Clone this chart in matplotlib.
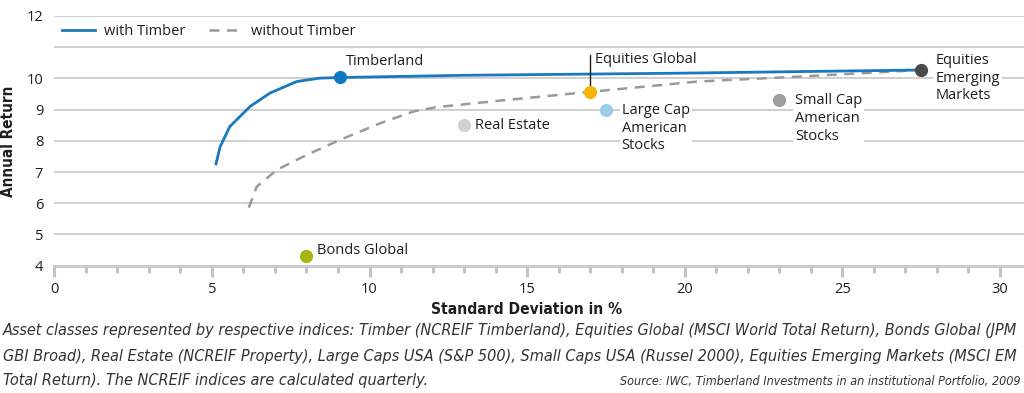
import matplotlib
matplotlib.use("Agg")
import matplotlib.pyplot as plt
from matplotlib.ticker import MultipleLocator, FixedLocator

plt.rcParams['font.family'] = ['Open Sans', 'DejaVu Sans']

# Efficient frontier with timber
with_x = [5.13, 5.26, 5.57, 6.21, 6.84, 7.69, 8.43, 9.09, 13.0, 20.0, 27.5]
with_y = [7.26, 7.81, 8.46, 9.10, 9.53, 9.90, 10.01, 10.03, 10.10, 10.17, 10.27]
# Efficient frontier without timber
without_x = [6.17, 6.42, 7.06, 8.01, 9.06, 10.33, 11.39, 12.13, 14.35, 17.0, 20.4, 23.66, 27.5]
without_y = [5.86, 6.53, 7.07, 7.55, 8.03, 8.56, 8.94, 9.08, 9.31, 9.57, 9.90, 10.06, 10.27]

# Asset classes
assets = ["Timberland", "Equities Global", "Large Cap\nAmerican\nStocks", "Real Estate",
          "Small Cap\nAmerican\nStocks", "Equities\nEmerging\nMarkets", "Bonds Global"]
asset_sd = [9.05, 17.0, 17.5, 13.0, 23.0, 27.5, 8.0]
asset_ret = [10.03, 9.57, 9.0, 8.5, 9.3, 10.27, 4.3]
asset_colors = ["#0c79c4", "#f6b600", "#9ccde6", "#d2d2d2", "#9e9e9e", "#4a4a4a", "#a7b316"]

x_ticks = [0, 5, 10, 15, 20, 25, 30]
y_ticks = [4, 5, 6, 7, 8, 9, 10, 12]

caption_lines = [
    "Asset classes represented by respective indices: Timber (NCREIF Timberland), Equities Global (MSCI World Total Return), Bonds Global (JPM",
    "GBI Broad), Real Estate (NCREIF Property), Large Caps USA (S&P 500), Small Caps USA (Russel 2000), Equities Emerging Markets (MSCI EM",
    "Total Return). The NCREIF indices are calculated quarterly.",
]
source = "Source: IWC, Timberland Investments in an institutional Portfolio, 2009"

TXT = "#1e1e1e"
fig = plt.figure(figsize=(10.24, 3.93), dpi=100)
ax = fig.add_axes([54.3/1024, (393-265.7)/393, (1024-54.3)/1024, (265.7-16)/393])
ax.set_xlim(0, (1024-54.3)/31.52)
ax.set_ylim(4, 12)

for s in ["top", "right", "left"]:
    ax.spines[s].set_visible(False)
ax.spines["bottom"].set_color("#c8c8c8")
ax.spines["bottom"].set_linewidth(2)

for yv in range(5, 13):
    ax.axhline(yv, color="#cccccc", lw=1.3, zorder=0)

ax.xaxis.set_major_locator(FixedLocator(x_ticks))
ax.xaxis.set_minor_locator(MultipleLocator(1))
ax.tick_params(axis="x", which="major", length=8, width=2.2, color="#c4c4c4",
               labelsize=10.5, labelcolor=TXT, pad=4)
ax.tick_params(axis="x", which="minor", length=5, width=2.2, color="#c4c4c4")
ax.yaxis.set_major_locator(FixedLocator(y_ticks))
ax.tick_params(axis="y", length=0, labelsize=10.5, labelcolor=TXT, pad=8)

ax.plot(with_x, with_y, color="#1a78bd", lw=2, zorder=3, label="with Timber")
ax.plot(without_x, without_y, color="#9a9a9a", lw=1.8, ls=(0, (4, 3)), zorder=2,
        label="without Timber")

for x, y, c in zip(asset_sd, asset_ret, asset_colors):
    ax.plot(x, y, "o", ms=8.5, color=c, mec=c, zorder=5)

box = dict(facecolor="white", edgecolor="none", pad=1.5)
fs = 10.5
ax.text(asset_sd[0] + 0.2, asset_ret[0] + 0.52, assets[0], fontsize=fs, color=TXT,
        va="center", ha="left")
ax.plot([asset_sd[1], asset_sd[1]], [asset_ret[1], asset_ret[1] + 1.17], color=TXT, lw=1, zorder=4)
ax.text(asset_sd[1] + 0.17, asset_ret[1] + 1.05, assets[1], fontsize=fs, color=TXT,
        va="center", ha="left")
ax.text(asset_sd[2] + 0.5, asset_ret[2] + 0.22, assets[2], fontsize=fs, color=TXT,
        va="top", ha="left", linespacing=1.25, bbox=box, zorder=4)
ax.text(asset_sd[3] + 0.35, asset_ret[3], assets[3], fontsize=fs, color=TXT,
        va="center", ha="left", bbox=box, zorder=4)
ax.text(asset_sd[4] + 0.5, asset_ret[4] + 0.22, assets[4], fontsize=fs, color=TXT,
        va="top", ha="left", linespacing=1.25, bbox=box, zorder=4)
ax.text(asset_sd[5] + 0.45, asset_ret[5] + 0.55, assets[5], fontsize=fs, color=TXT,
        va="top", ha="left", linespacing=1.25, bbox=box, zorder=4)
ax.text(asset_sd[6] + 0.35, asset_ret[6] + 0.18, assets[6], fontsize=fs, color=TXT,
        va="center", ha="left", zorder=4)

leg = ax.legend(loc="center left", bbox_to_anchor=(0.0, (11.5-4)/8), ncol=2, frameon=True,
                fontsize=10.5, handlelength=2.3, handletextpad=0.6, columnspacing=1.6,
                borderaxespad=0.3, borderpad=0.2, fancybox=False)
leg.get_frame().set_edgecolor("none")
leg.get_frame().set_facecolor("white")
leg.get_frame().set_alpha(1)
for t in leg.get_texts():
    t.set_color(TXT)

cond = dict(family=["DejaVu Sans"], stretch="condensed")
fig.text(527/1024, 1 - 310/393, "Standard Deviation in %", ha="center", va="center",
         fontsize=11.2, fontweight="bold", color=TXT, **cond)
fig.text(9/1024, 1 - 141/393, "Annual Return", ha="center", va="center", rotation=90,
         fontsize=11, fontweight="bold", color=TXT, **cond)

for i, line in enumerate(caption_lines):
    fig.text(3/1024, 1 - (331 + 25 * i)/393, line, ha="left", va="center", fontsize=11.6,
             style="italic", color="#333333", **cond)
fig.text(1020/1024, 1 - 382/393, source, ha="right", va="center", fontsize=9,
         style="italic", color="#333333", **cond)

fig.savefig("out.png", dpi=100)
